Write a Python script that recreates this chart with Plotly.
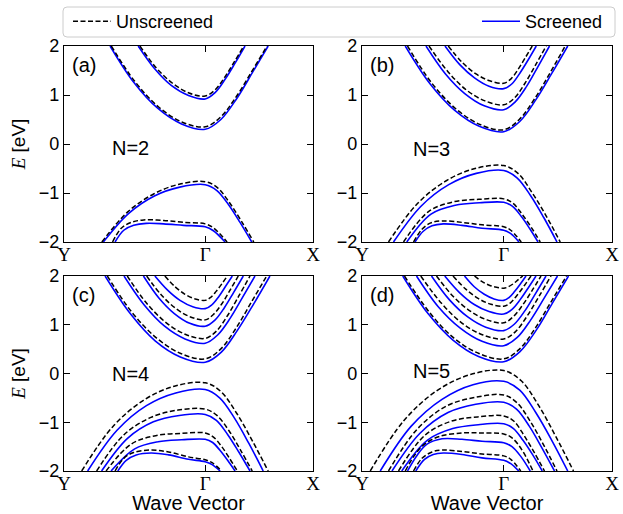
import plotly.graph_objects as go

# ---------------- data ----------------
K_GAMMA = 0.567
x_tick_vals = [0.0, K_GAMMA, 1.0]
x_tick_text = ["Y", "Γ", "X"]
y_tick_vals = [-2, -1, 0, 1, 2]
y_tick_text = ["−2", "−1", "0", "1", "2"]
panel_tags = ["(a)", "(b)", "(c)", "(d)"]
layer_labels = ["N=2", "N=3", "N=4", "N=5"]
series_names = ["Unscreened", "Screened"]

# each band: (k along Y-Gamma-X, energy in eV)
# ---- panel (a), N=2
a_cb_unscreened = [
    ([0.190, 0.284, 0.379, 0.473, 0.567, 0.629, 0.691, 0.753, 0.815], [2.0, 1.28, 0.76, 0.45, 0.35, 0.55, 0.96, 1.47, 2.0]),
    ([0.305, 0.371, 0.436, 0.502, 0.567, 0.606, 0.645, 0.683, 0.722], [2.0, 1.55, 1.24, 1.04, 0.98, 1.10, 1.36, 1.67, 2.0]),
]
a_cb_screened = [
    ([0.185, 0.280, 0.376, 0.472, 0.567, 0.630, 0.694, 0.757, 0.820], [2.0, 1.26, 0.73, 0.41, 0.30, 0.50, 0.93, 1.46, 2.0]),
    ([0.298, 0.365, 0.432, 0.500, 0.567, 0.607, 0.647, 0.687, 0.727], [2.0, 1.53, 1.19, 0.99, 0.92, 1.05, 1.32, 1.65, 2.0]),
]
a_vb_unscreened = [
    ([0.152, 0.256, 0.360, 0.463, 0.567, 0.616, 0.665, 0.713, 0.762], [-2.0, -1.385, -1.02, -0.82, -0.77, -0.89, -1.20, -1.58, -2.0]),
    ([0.195, 0.230, 0.270, 0.320, 0.400, 0.480, 0.567, 0.600, 0.655], [-2.0, -1.72, -1.60, -1.55, -1.56, -1.60, -1.63, -1.71, -2.0]),
]
a_vb_screened = [
    ([0.158, 0.260, 0.363, 0.465, 0.567, 0.614, 0.661, 0.707, 0.754], [-2.0, -1.415, -1.06, -0.88, -0.83, -0.95, -1.24, -1.60, -2.0]),
    ([0.205, 0.240, 0.280, 0.330, 0.400, 0.480, 0.567, 0.600, 0.647], [-2.0, -1.76, -1.66, -1.62, -1.63, -1.66, -1.69, -1.77, -2.0]),
]
# ---- panel (b), N=3
b_cb_unscreened = [
    ([0.182, 0.278, 0.375, 0.471, 0.567, 0.629, 0.690, 0.752, 0.813], [2.0, 1.25, 0.72, 0.40, 0.29, 0.50, 0.92, 1.45, 2.0]),
    ([0.268, 0.343, 0.418, 0.492, 0.567, 0.610, 0.652, 0.695, 0.737], [2.0, 1.48, 1.10, 0.88, 0.80, 0.94, 1.24, 1.62, 2.0]),
    ([0.345, 0.400, 0.456, 0.511, 0.567, 0.596, 0.624, 0.653, 0.681], [2.0, 1.67, 1.43, 1.29, 1.24, 1.33, 1.52, 1.76, 2.0]),
]
b_cb_screened = [
    ([0.173, 0.272, 0.370, 0.469, 0.567, 0.631, 0.695, 0.759, 0.823], [2.0, 1.23, 0.69, 0.36, 0.25, 0.46, 0.90, 1.44, 2.0]),
    ([0.256, 0.334, 0.411, 0.489, 0.567, 0.613, 0.659, 0.704, 0.750], [2.0, 1.43, 1.03, 0.78, 0.70, 0.86, 1.18, 1.58, 2.0]),
    ([0.332, 0.391, 0.450, 0.508, 0.567, 0.600, 0.632, 0.665, 0.697], [2.0, 1.62, 1.35, 1.18, 1.13, 1.23, 1.45, 1.72, 2.0]),
]
b_vb_unscreened = [
    ([0.106, 0.221, 0.337, 0.452, 0.567, 0.624, 0.680, 0.737, 0.793], [-2.0, -1.22, -0.75, -0.50, -0.44, -0.60, -0.99, -1.47, -2.0]),
    ([0.166, 0.266, 0.366, 0.467, 0.567, 0.604, 0.640, 0.677, 0.713], [-2.0, -1.38, -1.18, -1.13, -1.12, -1.21, -1.43, -1.70, -2.0]),
    ([0.206, 0.240, 0.275, 0.320, 0.400, 0.480, 0.567, 0.595, 0.637], [-2.0, -1.74, -1.61, -1.57, -1.60, -1.65, -1.69, -1.76, -2.0]),
]
b_vb_screened = [
    ([0.126, 0.236, 0.347, 0.457, 0.567, 0.620, 0.674, 0.727, 0.780], [-2.0, -1.27, -0.83, -0.60, -0.54, -0.69, -1.05, -1.50, -2.0]),
    ([0.179, 0.276, 0.373, 0.470, 0.567, 0.601, 0.636, 0.670, 0.704], [-2.0, -1.43, -1.25, -1.20, -1.19, -1.27, -1.47, -1.72, -2.0]),
    ([0.212, 0.245, 0.280, 0.325, 0.400, 0.480, 0.567, 0.595, 0.628], [-2.0, -1.78, -1.67, -1.63, -1.66, -1.72, -1.76, -1.83, -2.0]),
]
# ---- panel (c), N=4
c_cb_unscreened = [
    ([0.174, 0.272, 0.371, 0.469, 0.567, 0.629, 0.691, 0.752, 0.814], [2.0, 1.26, 0.73, 0.41, 0.30, 0.50, 0.93, 1.46, 2.0]),
    ([0.254, 0.332, 0.411, 0.489, 0.567, 0.612, 0.657, 0.702, 0.747], [2.0, 1.44, 1.04, 0.80, 0.72, 0.87, 1.19, 1.59, 2.0]),
    ([0.332, 0.391, 0.450, 0.508, 0.567, 0.600, 0.634, 0.667, 0.700], [2.0, 1.61, 1.33, 1.16, 1.10, 1.21, 1.43, 1.71, 2.0]),
    ([0.405, 0.446, 0.486, 0.527, 0.567, 0.589, 0.611, 0.634, 0.656], [2.0, 1.78, 1.625, 1.53, 1.50, 1.56, 1.685, 1.84, 2.0]),
]
c_cb_screened = [
    ([0.165, 0.266, 0.366, 0.467, 0.567, 0.632, 0.697, 0.762, 0.827], [2.0, 1.23, 0.67, 0.34, 0.23, 0.44, 0.89, 1.43, 2.0]),
    ([0.241, 0.323, 0.404, 0.486, 0.567, 0.617, 0.667, 0.717, 0.767], [2.0, 1.40, 0.97, 0.71, 0.62, 0.79, 1.13, 1.56, 2.0]),
    ([0.319, 0.381, 0.443, 0.505, 0.567, 0.605, 0.644, 0.682, 0.720], [2.0, 1.55, 1.23, 1.03, 0.97, 1.09, 1.35, 1.67, 2.0]),
    ([0.365, 0.416, 0.466, 0.517, 0.567, 0.594, 0.622, 0.649, 0.676], [2.0, 1.71, 1.50, 1.37, 1.33, 1.41, 1.58, 1.79, 2.0]),
]
c_vb_unscreened = [
    ([0.071, 0.195, 0.319, 0.443, 0.567, 0.630, 0.694, 0.757, 0.820], [-2.0, -1.095, -0.55, -0.26, -0.19, -0.37, -0.82, -1.385, -2.0]),
    ([0.131, 0.240, 0.349, 0.458, 0.567, 0.614, 0.662, 0.709, 0.756], [-2.0, -1.26, -0.90, -0.75, -0.73, -0.86, -1.17, -1.57, -2.0]),
    ([0.169, 0.269, 0.368, 0.468, 0.567, 0.599, 0.632, 0.664, 0.696], [-2.0, -1.45, -1.275, -1.23, -1.22, -1.30, -1.49, -1.735, -2.0]),
    ([0.205, 0.240, 0.280, 0.350, 0.420, 0.500, 0.567, 0.595, 0.633], [-2.0, -1.74, -1.62, -1.57, -1.61, -1.71, -1.77, -1.83, -2.0]),
]
c_vb_screened = [
    ([0.095, 0.213, 0.331, 0.449, 0.567, 0.625, 0.684, 0.742, 0.800], [-2.0, -1.165, -0.66, -0.40, -0.33, -0.50, -0.91, -1.43, -2.0]),
    ([0.151, 0.255, 0.359, 0.463, 0.567, 0.612, 0.657, 0.702, 0.747], [-2.0, -1.33, -0.99, -0.86, -0.84, -0.96, -1.25, -1.61, -2.0]),
    ([0.189, 0.284, 0.378, 0.473, 0.567, 0.597, 0.627, 0.657, 0.687], [-2.0, -1.545, -1.40, -1.36, -1.35, -1.415, -1.58, -1.78, -2.0]),
    ([0.216, 0.250, 0.290, 0.350, 0.420, 0.500, 0.567, 0.595, 0.627], [-2.0, -1.78, -1.67, -1.63, -1.67, -1.76, -1.81, -1.87, -2.0]),
]
# ---- panel (d), N=5
d_cb_unscreened = [
    ([0.170, 0.269, 0.368, 0.468, 0.567, 0.630, 0.693, 0.755, 0.818], [2.0, 1.26, 0.725, 0.41, 0.30, 0.50, 0.93, 1.46, 2.0]),
    ([0.235, 0.318, 0.401, 0.484, 0.567, 0.614, 0.662, 0.709, 0.756], [2.0, 1.44, 1.03, 0.79, 0.71, 0.86, 1.19, 1.59, 2.0]),
    ([0.298, 0.365, 0.433, 0.500, 0.567, 0.604, 0.642, 0.679, 0.716], [2.0, 1.58, 1.28, 1.10, 1.04, 1.16, 1.40, 1.69, 2.0]),
    ([0.364, 0.415, 0.466, 0.516, 0.567, 0.594, 0.621, 0.649, 0.676], [2.0, 1.73, 1.535, 1.42, 1.38, 1.45, 1.61, 1.80, 2.0]),
    ([0.450, 0.479, 0.509, 0.538, 0.567, 0.586, 0.605, 0.624, 0.643], [2.0, 1.89, 1.81, 1.77, 1.75, 1.78, 1.84, 1.92, 2.0]),
]
d_cb_screened = [
    ([0.163, 0.264, 0.365, 0.466, 0.567, 0.632, 0.697, 0.761, 0.826], [2.0, 1.23, 0.68, 0.35, 0.24, 0.45, 0.89, 1.44, 2.0]),
    ([0.218, 0.305, 0.393, 0.480, 0.567, 0.621, 0.675, 0.728, 0.782], [2.0, 1.37, 0.93, 0.66, 0.57, 0.74, 1.10, 1.54, 2.0]),
    ([0.278, 0.350, 0.423, 0.495, 0.567, 0.609, 0.652, 0.694, 0.736], [2.0, 1.51, 1.16, 0.95, 0.88, 1.01, 1.29, 1.64, 2.0]),
    ([0.331, 0.390, 0.449, 0.508, 0.567, 0.599, 0.632, 0.664, 0.696], [2.0, 1.66, 1.415, 1.27, 1.22, 1.31, 1.51, 1.75, 2.0]),
    ([0.410, 0.449, 0.489, 0.528, 0.567, 0.589, 0.611, 0.634, 0.656], [2.0, 1.78, 1.625, 1.53, 1.50, 1.56, 1.685, 1.84, 2.0]),
]
d_vb_unscreened = [
    ([0.033, 0.167, 0.300, 0.434, 0.567, 0.637, 0.707, 0.776, 0.846], [-2.0, -0.97, -0.35, -0.02, 0.06, -0.15, -0.66, -1.30, -2.0]),
    ([0.106, 0.221, 0.337, 0.452, 0.567, 0.620, 0.674, 0.727, 0.780], [-2.0, -1.14, -0.67, -0.49, -0.44, -0.60, -0.99, -1.47, -2.0]),
    ([0.146, 0.251, 0.356, 0.462, 0.567, 0.608, 0.648, 0.689, 0.730], [-2.0, -1.27, -0.98, -0.89, -0.87, -0.98, -1.27, -1.62, -2.0]),
    ([0.173, 0.210, 0.250, 0.310, 0.400, 0.480, 0.567, 0.600, 0.640, 0.684], [-2.0, -1.68, -1.45, -1.29, -1.22, -1.22, -1.24, -1.32, -1.57, -2.0]),
    ([0.206, 0.240, 0.280, 0.320, 0.400, 0.480, 0.567, 0.595, 0.635], [-2.0, -1.74, -1.61, -1.57, -1.60, -1.65, -1.69, -1.76, -2.0]),
]
d_vb_screened = [
    ([0.073, 0.197, 0.320, 0.444, 0.567, 0.631, 0.695, 0.759, 0.823], [-2.0, -1.08, -0.53, -0.23, -0.16, -0.34, -0.80, -1.37, -2.0]),
    ([0.120, 0.232, 0.344, 0.455, 0.567, 0.618, 0.669, 0.719, 0.770], [-2.0, -1.225, -0.80, -0.63, -0.59, -0.73, -1.08, -1.52, -2.0]),
    ([0.159, 0.261, 0.363, 0.465, 0.567, 0.606, 0.644, 0.683, 0.721], [-2.0, -1.37, -1.13, -1.05, -1.03, -1.13, -1.37, -1.67, -2.0]),
    ([0.182, 0.220, 0.260, 0.320, 0.400, 0.480, 0.567, 0.600, 0.635, 0.673], [-2.0, -1.68, -1.45, -1.34, -1.35, -1.39, -1.42, -1.50, -1.70, -2.0]),
    ([0.215, 0.250, 0.285, 0.325, 0.400, 0.480, 0.567, 0.595, 0.627], [-2.0, -1.76, -1.66, -1.63, -1.66, -1.73, -1.78, -1.85, -2.0]),
]

# ---------------- figure ----------------
W, H = 623, 514
SANS = "Liberation Sans, Arial, Helvetica, sans-serif"
SERIF = "Liberation Serif, Times New Roman, serif"

panels = [
    (a_cb_screened + a_vb_screened, a_cb_unscreened + a_vb_unscreened),
    (b_cb_screened + b_vb_screened, b_cb_unscreened + b_vb_unscreened),
    (c_cb_screened + c_vb_screened, c_cb_unscreened + c_vb_unscreened),
    (d_cb_screened + d_vb_screened, d_cb_unscreened + d_vb_unscreened),
]

# pixel boxes of the four panels (left, right, top, bottom)
boxes = [(64, 313, 46, 242), (362, 612, 46, 242), (64, 313, 276, 471), (362, 612, 276, 471)]
tag_y = [0.905, 0.905, 0.905, 0.905]
n_x = [0.183, 0.194, 0.183, 0.194]
n_y = [0.478, 0.474, 0.50, 0.513]

fig = go.Figure()
for i, (solid_set, dashed_set) in enumerate(panels):
    xa = "x" if i == 0 else f"x{i+1}"
    ya = "y" if i == 0 else f"y{i+1}"
    for j, (k, e) in enumerate(solid_set):
        fig.add_trace(go.Scatter(
            x=k, y=e, mode="lines", xaxis=xa, yaxis=ya,
            line=dict(color="#0000ff", width=1.6, shape="spline", smoothing=1.0),
            name=series_names[1], legend="legend2",
            showlegend=(i == 0 and j == 0), hoverinfo="skip"))
    for j, (k, e) in enumerate(dashed_set):
        fig.add_trace(go.Scatter(
            x=k, y=e, mode="lines", xaxis=xa, yaxis=ya,
            line=dict(color="black", width=1.5, dash="5px,2.5px", shape="spline", smoothing=1.0),
            name=series_names[0], legend="legend",
            showlegend=(i == 0 and j == 0), hoverinfo="skip"))

axis_style = dict(showline=True, linecolor="black", linewidth=1.3, mirror="ticks",
                  ticks="inside", ticklen=6, tickwidth=1.2, tickcolor="black",
                  showgrid=False, zeroline=False, automargin=False,
                  ticklabeloverflow="allow")

layout = dict(
    width=W, height=H, margin=dict(l=0, r=0, t=0, b=0),
    paper_bgcolor="white", plot_bgcolor="white",
    font=dict(family=SANS, size=18, color="black"),
    legend=dict(x=68 / W, y=1 - 3 / H, xanchor="left", yanchor="top", orientation="h",
                bgcolor="rgba(0,0,0,0)", borderwidth=0, itemwidth=38,
                font=dict(family=SANS, size=18)),
    legend2=dict(x=477 / W, y=1 - 3 / H, xanchor="left", yanchor="top", orientation="h",
                 bgcolor="rgba(0,0,0,0)", borderwidth=0, itemwidth=38,
                 font=dict(family=SANS, size=18)),
)
for i, (l, r, t, b) in enumerate(boxes):
    sfx = "" if i == 0 else str(i + 1)
    layout["xaxis" + sfx] = dict(
        axis_style, domain=[l / W, r / W], anchor="y" + sfx, range=[0, 1],
        tickvals=x_tick_vals, ticktext=x_tick_text, ticklabelstandoff=-5,
        tickfont=dict(family=SERIF, size=19),
        title=dict(text="Wave Vector" if i >= 2 else "", font=dict(family=SANS, size=20), standoff=11))
    layout["yaxis" + sfx] = dict(
        axis_style, domain=[1 - b / H, 1 - t / H], anchor="x" + sfx, range=[-2, 2],
        tickvals=y_tick_vals, ticktext=y_tick_text, ticklabelstandoff=0,
        tickfont=dict(family=SANS, size=18),
        title=dict(text=("<span style='font-family:Liberation Serif'><i>E</i></span> [eV]" if i in (0, 2) else ""),
                   font=dict(family=SANS, size=19), standoff=8))
fig.update_layout(**layout)

for i in range(4):
    sfx = "" if i == 0 else str(i + 1)
    fig.add_annotation(text=panel_tags[i], xref=f"x{sfx} domain", yref=f"y{sfx} domain",
                       x=0.025, y=tag_y[i], xanchor="left", yanchor="middle", showarrow=False,
                       font=dict(family=SANS, size=20))
    fig.add_annotation(text=layer_labels[i], xref=f"x{sfx} domain", yref=f"y{sfx} domain",
                       x=n_x[i], y=n_y[i], xanchor="left", yanchor="middle", showarrow=False,
                       font=dict(family=SANS, size=20))

# legend frame (rounded box spanning the width)
x0, x1, y0, y1 = 63 / W, 615 / W, 1 - 37 / H, 1 - 7 / H
rx, ry = 4 / W, 4 / H
frame = (f"M{x0+rx},{y1} L{x1-rx},{y1} Q{x1},{y1} {x1},{y1-ry} L{x1},{y0+ry} "
         f"Q{x1},{y0} {x1-rx},{y0} L{x0+rx},{y0} Q{x0},{y0} {x0},{y0+ry} "
         f"L{x0},{y1-ry} Q{x0},{y1} {x0+rx},{y1} Z")
fig.add_shape(type="path", path=frame, xref="paper", yref="paper",
              line=dict(color="#cccccc", width=1), fillcolor="white", layer="below")

fig.write_html("out.html", config={"displayModeBar": False},
               post_script="document.body.style.margin='0px';")
